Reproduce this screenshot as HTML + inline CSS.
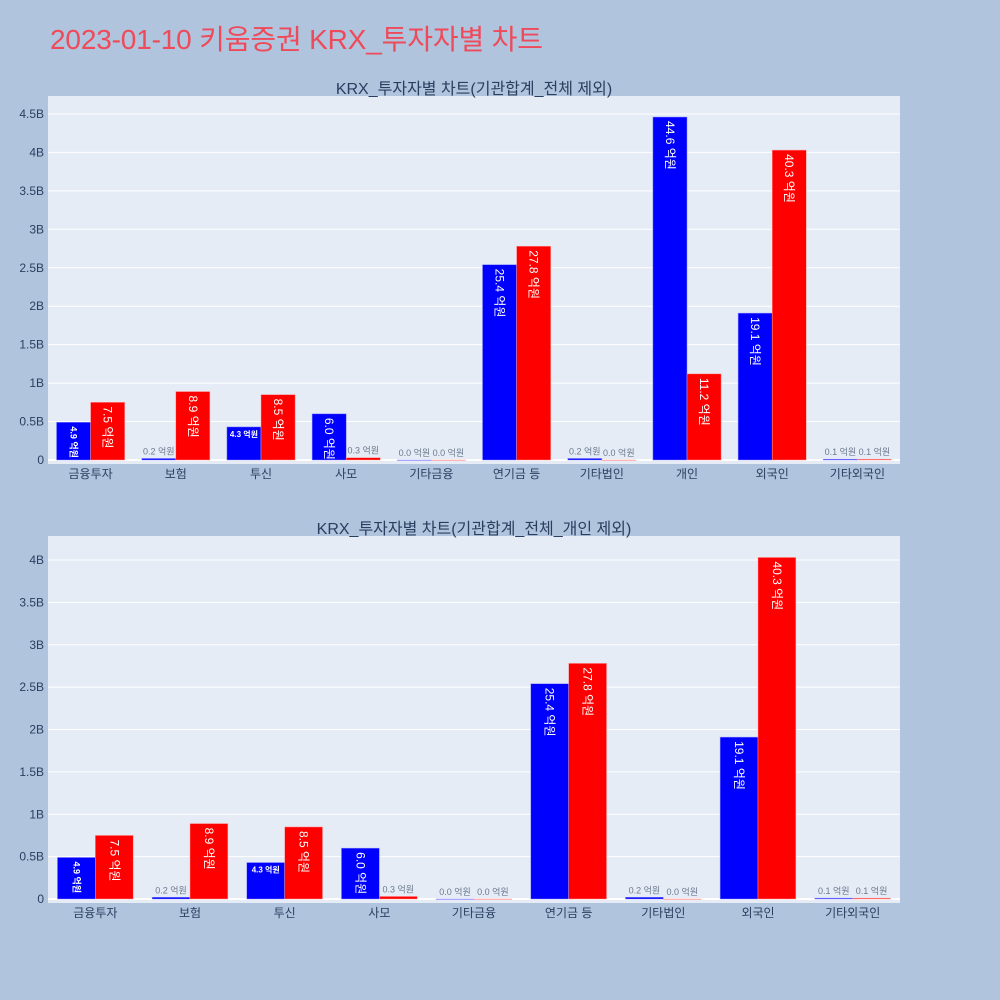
<!DOCTYPE html>
<html><head><meta charset="utf-8"><style>
body{margin:0;background:#b0c4de;}
svg{display:block;font-family:"Liberation Sans","Noto Sans CJK KR",sans-serif;}
</style></head><body>
<svg id="c" width="1000" height="1000">
<rect width="1000" height="1000" fill="#b0c4de"/>
<text x="50" y="49" font-size="28" fill="#ef4a5a" textLength="493">2023-01-10 키움증권 KRX_투자자별 차트</text>
</svg>
<script>
const cats1 = ["금융투자","보험","투신","사모","기타금융","연기금 등","기타법인","개인","외국인","기타외국인"];
const blue1 = [4.9,0.2,4.3,6.0,0.0,25.4,0.2,44.6,19.1,0.1];
const red1 = [7.5,8.9,8.5,0.3,0.0,27.8,0.0,11.2,40.3,0.1];
const ticks1 = [0,0.5,1,1.5,2,2.5,3,3.5,4,4.5];
const cats2 = ["금융투자","보험","투신","사모","기타금융","연기금 등","기타법인","외국인","기타외국인"];
const blue2 = [4.9,0.2,4.3,6.0,0.0,25.4,0.2,19.1,0.1];
const red2 = [7.5,8.9,8.5,0.3,0.0,27.8,0.0,40.3,0.1];
const ticks2 = [0,0.5,1,1.5,2,2.5,3,3.5,4];
const tickLabels1 = ["0","0.5B","1B","1.5B","2B","2.5B","3B","3.5B","4B","4.5B"];
const tickLabels2 = ["0","0.5B","1B","1.5B","2B","2.5B","3B","3.5B","4B"];

const svg=document.getElementById('c');
const NS="http://www.w3.org/2000/svg";
function mk(tag,attrs,parent){const e=document.createElementNS(NS,tag);for(const k in attrs)e.setAttribute(k,attrs[k]);(parent||svg).appendChild(e);return e;}

function chart(id,title,cats,blue,red,ticks,tickLabels,top,bottom,zeroY,unitPx,left,right){
  const g=mk('g',{});
  
  
  const bg=mk('rect',{x:left,y:top,width:right-left,height:bottom-top,fill:'#e5ecf6'},g);
  
  
  const t=mk('text',{x:474,y:top-2,'font-size':16,fill:'#2a3f5f','text-anchor':'middle'},g);
  t.textContent=title;
  
  
  const y=v=>zeroY-v*unitPx;
  ticks.forEach((tv,i)=>{
    const l=mk('line',{x1:left,x2:right,y1:y(tv),y2:y(tv),stroke:'#fff','stroke-width':tv===0?2:1},g);
    
    
    const tl=mk('text',{x:left-4,y:y(tv)+4,'font-size':12,fill:'#2a3f5f','text-anchor':'end'},g);
    tl.textContent=tickLabels[i];
    
    
  });
  const cw=(right-left)/cats.length, bw=cw*0.4;
  cats.forEach((c,i)=>{
    const cx=left+cw*(i+0.5);
    const xl=mk('text',{x:cx,y:zeroY+18,'font-size':12,fill:'#2a3f5f','text-anchor':'middle'},g);
    xl.textContent=c;
    
    
    [[blue[i],'#0000ff',cx-bw],[red[i],'#ff0000',cx]].forEach(([v,col,x0])=>{
      const h=v/10*unitPx;
      const r=mk('rect',{x:x0,y:zeroY-h,width:bw,height:Math.max(h,0.5),fill:col,stroke:col==='#0000ff'?'#8a8aff':'#ff9a9a','stroke-width':0.5},g);
      
      
      const label=v.toFixed(1)+' 억원';
      let tx;
      if(h>44){
        tx=mk('text',{x:0,y:0,'font-size':12,fill:'#fff',transform:`translate(${x0+bw/2-4},${zeroY-h+4}) rotate(90)`},g);
      } else if(h>=37){
        tx=mk('text',{x:0,y:0,'font-size':9,fill:'#fff','font-weight':'bold',transform:`translate(${x0+bw/2-3},${zeroY-h+4}) rotate(90)`},g);
      } else if(h>20){
        tx=mk('text',{x:x0+bw/2,y:zeroY-h+10,'font-size':8,fill:'#fff','font-weight':'bold','text-anchor':'middle'},g);
      } else {
        tx=mk('text',{x:x0+bw/2,y:zeroY-h-4,'font-size':9,fill:'#6b7a8f','text-anchor':'middle'},g);
      }
      tx.textContent=label;
      
      
    });
  });
}
chart('top-chart','KRX_투자자별 차트(기관합계_전체 제외)',cats1,blue1,red1,ticks1,tickLabels1,96,464,460,76.9,48,900);
chart('bottom-chart','KRX_투자자별 차트(기관합계_전체_개인 제외)',cats2,blue2,red2,ticks2,tickLabels2,536,903,899,84.75,48,900);
</script>
</body></html>
